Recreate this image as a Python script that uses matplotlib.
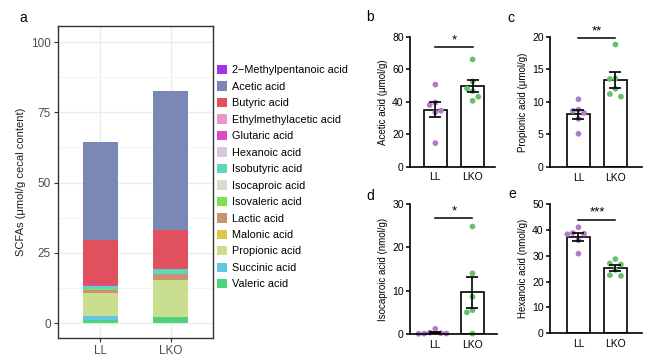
import numpy as np
import matplotlib
matplotlib.use("Agg")
import matplotlib.pyplot as plt
from matplotlib.patches import Patch

plt.rcParams['font.family'] = ['Liberation Sans', 'DejaVu Sans']

# ---------------- data ----------------
groups = ["LL", "LKO"]
acids = ["2\u2212Methylpentanoic acid", "Acetic acid", "Butyric acid", "Ethylmethylacetic acid",
         "Glutaric acid", "Hexanoic acid", "Isobutyric acid", "Isocaproic acid",
         "Isovaleric acid", "Lactic acid", "Malonic acid", "Propionic acid",
         "Succinic acid", "Valeric acid"]
acid_colors = ["#A033E8", "#7B87B4", "#E0505E", "#E698CB", "#D84CC6", "#D9C4E0",
               "#5ED6BE", "#D6DCCF", "#7EE04E", "#C99371", "#DAC649", "#C9DE8F",
               "#63C6E0", "#4CD47D"]
ll_scfa = [0.05, 34.9, 16.0, 0.1, 0.05, 0.04, 1.3, 0.0, 0.2, 1.0, 0.1, 8.0, 1.5, 1.2]
lko_scfa = [0.05, 49.4, 14.0, 0.1, 0.05, 0.03, 1.5, 0.01, 0.2, 1.9, 0.1, 13.2, 0.2, 2.0]

acetic_ll = [50.5, 39.5, 38.0, 34.5, 33.5, 14.5]
acetic_lko = [66.0, 52.5, 48.0, 46.5, 43.0, 40.5]
propionic_ll = [10.4, 8.8, 8.6, 8.3, 7.4, 5.1]
propionic_lko = [18.8, 13.6, 13.5, 12.0, 11.2, 10.8]
isocaproic_ll = [1.2, 0.3, 0.2, 0.1, 0.1, 0.05]
isocaproic_lko = [24.8, 14.0, 8.6, 5.5, 5.0, 0.1]
hexanoic_ll = [41.0, 38.8, 38.5, 38.3, 36.0, 30.8]
hexanoic_lko = [28.7, 27.0, 26.6, 24.5, 22.5, 22.2]

W, H = 650, 362
fig = plt.figure(figsize=(W / 100, H / 100), dpi=100)


def px_axes(left, top, right, bottom):
    return fig.add_axes([left / W, (H - bottom) / H, (right - left) / W, (bottom - top) / H])


# ---------------- panel a ----------------
axa = px_axes(58, 26, 213, 338)
xpos = np.arange(1, len(groups) + 1)
data = np.array([ll_scfa, lko_scfa])  # groups x acids
bottoms = np.zeros(len(groups))
for i in range(len(acids) - 1, -1, -1):
    axa.bar(xpos, data[:, i], width=0.5, bottom=bottoms, color=acid_colors[i],
            edgecolor='none', zorder=3)
    bottoms = bottoms + data[:, i]
axa.set_xlim(0.4, 2.6)
axa.set_ylim(-5.3, 105.7)
axa.set_yticks([0, 25, 50, 75, 100])
axa.set_yticks([12.5, 37.5, 62.5, 87.5], minor=True)
axa.set_xticks(xpos)
axa.set_xticklabels(groups)
axa.grid(True, which='major', color='#EBEBEB', lw=0.9, zorder=0)
axa.grid(True, which='minor', axis='y', color='#F2F2F2', lw=0.6, zorder=0)
axa.tick_params(which='minor', length=0)
axa.tick_params(which='major', length=3, color='#333333', labelcolor='#4D4D4D', labelsize=8.5, pad=2)
for s in axa.spines.values():
    s.set_color('#333333')
    s.set_linewidth(1.0)
axa.set_ylabel("SCFAs (\u03bcmol/g cecal content)", fontsize=8, color='#222222', labelpad=4)

handles = [Patch(facecolor=c, edgecolor='none') for c in acid_colors]
fig.legend(handles, acids, loc='upper left', bbox_to_anchor=(217 / W, 1 - 65 / H),
           frameon=False, fontsize=7.8, handlelength=0.95, handleheight=0.95,
           handletextpad=0.45, labelspacing=0.56, borderpad=0, borderaxespad=0)

# ---------------- panels b-e ----------------
purple = "#B07CC6"
green = "#66BF6C"


def swarm_offsets(vals, ythr, step):
    order = np.argsort(vals)[::-1]
    placed = []
    offs = np.zeros(len(vals))
    for idx in order:
        v = vals[idx]
        for k in [0, -1, 1, -2, 2, -3, 3]:
            x = k * step
            ok = all(not (abs(v - pv) < ythr and abs(x - px) < step * 0.9) for pv, px in placed)
            if ok:
                offs[idx] = x
                placed.append((v, x))
                break
    return offs


def bar_panel(box, xlim, ymax, yticks, ll, lko, ylabel, stars, sig_y, letter, letter_xy):
    ax = px_axes(*box)
    for gi, (vals, col) in enumerate([(ll, purple), (lko, green)]):
        vals = np.asarray(vals, dtype=float)
        m = vals.mean()
        sem = vals.std(ddof=1) / np.sqrt(len(vals))
        ax.bar(gi, m, width=0.63, facecolor='white', edgecolor='black', lw=1.2, zorder=1)
        offs = swarm_offsets(vals, ymax * 0.07, 0.15)
        ax.scatter(gi + offs, vals, s=17, color=col, edgecolor='none', zorder=2, clip_on=False)
        ax.errorbar(gi, m, yerr=sem, color='black', lw=1.2, capsize=4.5, capthick=1.2, zorder=3)
    ax.plot([0, 1], [sig_y, sig_y], color='black', lw=1.1, clip_on=False)
    ax.text(0.5, sig_y + ymax * 0.005, stars, ha='center', va='bottom', fontsize=9.5)
    ax.set_xlim(*xlim)
    ax.set_ylim(0, ymax)
    ax.set_yticks(yticks)
    ax.set_xticks([0, 1])
    ax.set_xticklabels(groups)
    for side in ['top', 'right']:
        ax.spines[side].set_visible(False)
    for side in ['left', 'bottom']:
        ax.spines[side].set_linewidth(1.2)
    ax.tick_params(length=3, width=1.1, labelsize=7.5, pad=1.5)
    ax.tick_params(axis='x', length=0, pad=4)
    ax.set_ylabel(ylabel, fontsize=7, labelpad=3)
    fig.text(letter_xy[0] / W, 1 - letter_xy[1] / H, letter, fontsize=10, ha='center', va='center')
    return ax


bar_panel((410, 36.7, 495, 166.7), (-0.68, 1.6), 80, [0, 20, 40, 60, 80], acetic_ll, acetic_lko,
          "Acetic acid (\u03bcmol/g)", "*", 73.5, "b", (370, 17))
bar_panel((550, 36.7, 642, 167), (-0.77, 1.72), 20, [0, 5, 10, 15, 20], propionic_ll, propionic_lko,
          "Propionic acid (\u03bcmol/g)", "**", 19.8, "c", (511, 18))
bar_panel((410, 204, 497, 334), (-0.68, 1.66), 30, [0, 10, 20, 30], isocaproic_ll, isocaproic_lko,
          "Isocaproic acid (nmol/g)", "*", 26.8, "d", (370, 196))
bar_panel((550, 204, 642, 333.3), (-0.77, 1.72), 50, [0, 10, 20, 30, 40, 50], hexanoic_ll, hexanoic_lko,
          "Hexanoic acid (nmol/g)", "***", 44.0, "e", (512, 194))

fig.text(23 / W, 1 - 18 / H, "a", fontsize=10, ha='center', va='center')

fig.savefig("out.png", dpi=100)
